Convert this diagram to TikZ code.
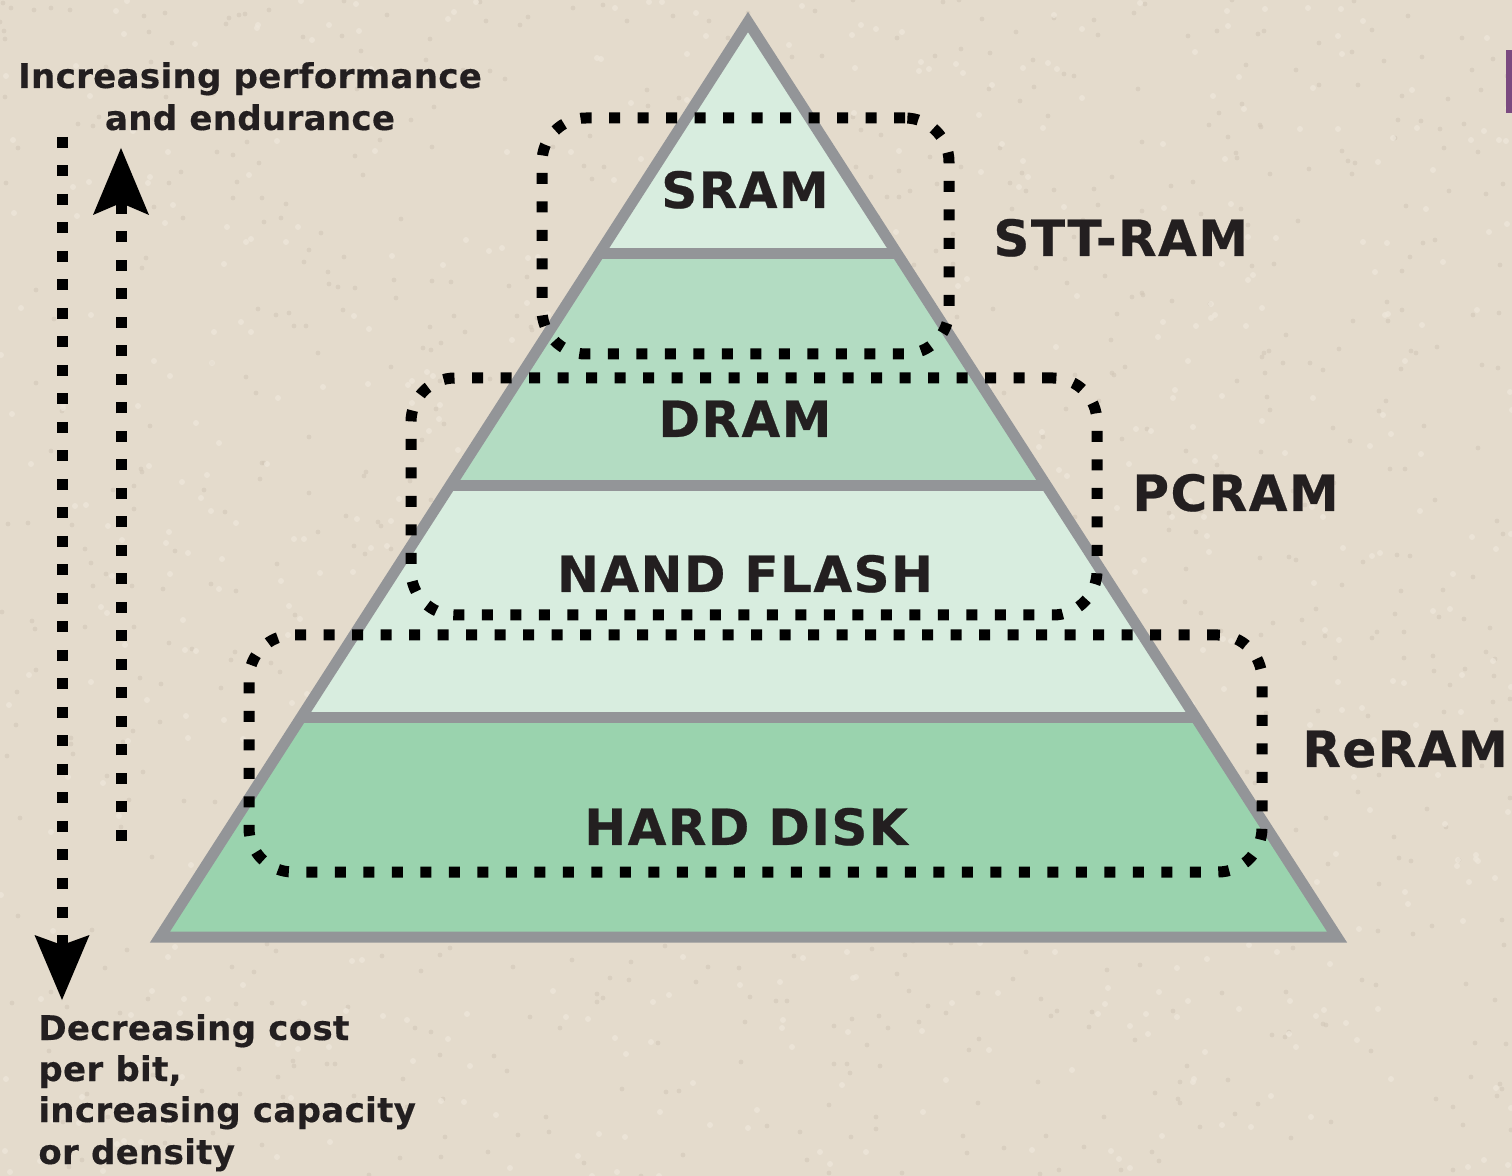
\documentclass[tikz,border=0pt]{standalone}
\usepackage{fontspec}
\setmainfont{DejaVu Sans}
\newfontfamily\labfont[LetterSpace=3,FakeBold=0.5]{DejaVu Sans Bold}
\newfontfamily\sidefont[LetterSpace=1,FakeBold=0.4]{DejaVu Sans Bold}
\usetikzlibrary{arrows.meta}
\definecolor{bg}{HTML}{E4DBCC}
\definecolor{speckA}{HTML}{D3C8B8}
\definecolor{speckB}{HTML}{EEE7DB}
\definecolor{pgray}{HTML}{939598}
\definecolor{glight}{HTML}{D8EDDF}
\definecolor{gmid}{HTML}{B3DCC2}
\definecolor{gdark}{HTML}{9AD3AE}
\definecolor{ink}{HTML}{231F20}
\definecolor{purp}{HTML}{7B4A80}
\begin{document}
\begin{tikzpicture}[x=0.5pt,y=-0.5pt,
  dotbox/.style={draw=black, line width=5.5pt, dash pattern=on 5.5pt off 8.75pt,
    rounded corners=22pt, rectangle, inner sep=0pt, outer sep=0pt},
  dotline/.style={draw=black, line width=5.5pt, dash pattern=on 5.5pt off 8.75pt},
  biglabel/.style={font=\fontsize{25}{30}\labfont, text=ink, inner sep=0pt},
  smalltext/.style={font=\fontsize{17}{21}\sidefont, text=ink, inner sep=0pt},
  edge/.style={draw=pgray, line width=5.5pt}]
\fill[bg] (0,0) rectangle (1512,1176);
\useasboundingbox (0,0) rectangle (1512,1176);
% paper texture
\pgfmathsetseed{7}
\foreach \i in {1,...,900}{
  \pgfmathsetmacro{\px}{random(0,1512)}
  \pgfmathsetmacro{\py}{random(0,1176)}
  \fill[speckA, opacity=0.6] (\px,\py) circle[radius=1.2pt];
}
\foreach \i in {1,...,700}{
  \pgfmathsetmacro{\px}{random(0,1512)}
  \pgfmathsetmacro{\py}{random(0,1176)}
  \fill[speckB, opacity=0.7] (\px,\py) circle[radius=1.5pt];
}
\fill[purp] (1506,50) rectangle (1512,113);
% pyramid
\coordinate (apex) at (748,22);
\coordinate (bl) at (160,937);
\coordinate (br) at (1337,937);
\begin{scope}
  \clip (apex) -- (bl) -- (br) -- cycle;
  \fill[glight] (0,0) rectangle (1512,254);
  \fill[gmid] (0,254) rectangle (1512,486);
  \fill[glight] (0,486) rectangle (1512,718);
  \fill[gdark] (0,718) rectangle (1512,940);
  \draw[edge] (0,254) -- (1512,254);
  \draw[edge] (0,486) -- (1512,486);
  \draw[edge] (0,718) -- (1512,718);
\end{scope}
\draw[edge, line join=miter] (apex) -- (bl) -- (br) -- cycle;
% dotted groups
\node[dotbox, minimum width=203.5pt, minimum height=118pt] (stt) at (745.5,236) {};
\node[dotbox, minimum width=343pt, minimum height=118.5pt] (pcr) at (754,496.5) {};
\node[dotbox, minimum width=506.5pt, minimum height=118.5pt] (rer) at (755.5,753.5) {};
% layer labels
\node[biglabel, anchor=base] (sram) at (745,208) {SRAM};
\node[biglabel, anchor=base] (dram) at (745,437) {DRAM};
\node[biglabel, anchor=base] (nand) at (745,592) {NAND FLASH};
\node[biglabel, anchor=base] (hdd) at (746,845) {HARD DISK};
\node[biglabel, anchor=base west] (sttl) at (993,256) {STT-RAM};
\node[biglabel, anchor=base west] (pcrl) at (1132,511) {PCRAM};
\node[biglabel, anchor=base west] (rerl) at (1302,767) {ReRAM};
% side texts
\node[smalltext, anchor=base] (perf1) at (250,88) {Increasing performance};
\node[smalltext, anchor=base] (perf2) at (250,130) {and endurance};
\node[smalltext, anchor=base west] (cost1) at (38,1040) {Decreasing cost};
\node[smalltext, anchor=base west] (cost2) at (38,1081) {per bit,};
\node[smalltext, anchor=base west] (cost3) at (38,1122) {increasing capacity};
\node[smalltext, anchor=base west] (cost4) at (38,1164) {or density};
% arrows
\coordinate (dtop) at (62,137);
\coordinate (dtip) at (62,1000);
\coordinate (ubot) at (121,841);
\coordinate (utip) at (121,148);
\draw[dotline, -{Stealth[length=32.5pt,width=27.5pt,inset=5pt,line width=0pt]}] (dtop) -- (dtip);
\draw[dotline, -{Stealth[length=33.5pt,width=28pt,inset=6pt,line width=0pt]}] (ubot) -- (utip);
\end{tikzpicture}
\end{document}
